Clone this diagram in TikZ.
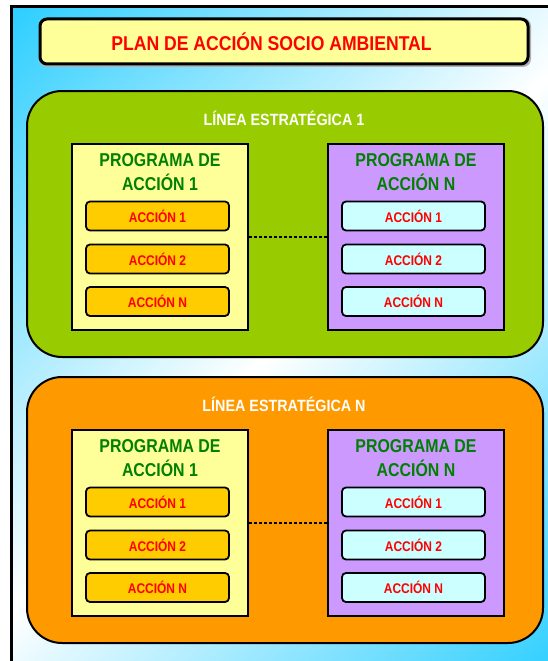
\documentclass[tikz,border=0pt]{standalone}
\usepackage{fontspec}
\setmainfont{Liberation Sans}
\newfontfamily\titlefont[FakeStretch=0.88]{Liberation Sans}
\newfontfamily\labelfont[FakeStretch=0.88]{Liberation Sans}
\newfontfamily\progfont[FakeStretch=0.855]{Liberation Sans}
\newfontfamily\actfont[FakeStretch=0.855]{Liberation Sans}
\definecolor{bgcyan}{HTML}{1ECBFF}
\definecolor{titlefill}{HTML}{FFFF99}
\definecolor{linegreen}{HTML}{99CC00}
\definecolor{lineorange}{HTML}{FF9900}
\definecolor{progyellow}{HTML}{FFFF99}
\definecolor{progviolet}{HTML}{CC99FF}
\definecolor{actyellow}{HTML}{FFCC00}
\definecolor{actcyan}{HTML}{CCFFFF}
\definecolor{txtgreen}{HTML}{008000}
\definecolor{txtred}{HTML}{FF0000}
\pgfdeclarehorizontalshading{bgshade}{100bp}{color(0bp)=(bgcyan); color(12bp)=(bgcyan); color(50bp)=(white); color(88bp)=(bgcyan); color(100bp)=(bgcyan)}
\tikzset{
  titlebox/.style={draw=black, line width=3pt, fill=titlefill, rounded corners=7pt,
    minimum width=488pt, minimum height=45pt, inner sep=0pt},
  titleshadow/.style={fill=black!30, rounded corners=8pt,
    minimum width=492pt, minimum height=49pt, inner sep=0pt},
  titletext/.style={font=\titlefont\bfseries\fontsize{20}{24}\selectfont, text=txtred, inner sep=0pt},
  linebox/.style={draw=black, line width=2pt, rounded corners=35pt,
    minimum width=516pt, minimum height=266pt, inner sep=0pt},
  linelabel/.style={font=\labelfont\bfseries\fontsize{16.3}{18}\selectfont, text=white, inner sep=0pt},
  progbox/.style={draw=black, line width=2.2pt, minimum width=176pt, minimum height=186pt, inner sep=0pt},
  progtitle/.style={font=\progfont\bfseries\fontsize{18.6}{24}\selectfont, text=txtgreen, align=center, inner sep=0pt},
  actbox/.style={draw=black, line width=1.8pt, rounded corners=4pt, minimum width=143pt,
    minimum height=29pt, inner sep=0pt, font=\actfont\bfseries\fontsize{14}{15}\selectfont, text=txtred},
  dotline/.style={line width=2pt, dash pattern=on 2.4pt off 2.6pt}
}
\begin{document}
\begin{tikzpicture}[x=1pt,y=-1pt]
\useasboundingbox (0,0) rectangle (548,661);
\clip (0,0) rectangle (548,661);
\fill[white] (0,0) rectangle (548,661);
\shade[shading=bgshade, shading angle=-45] (11.5pt,-6.5pt) rectangle (560pt,-672pt);
\draw[line width=3pt] (11.5,680) -- (11.5,6.5) -- (560,6.5);
\node[titleshadow] (tshadow) at (285,42.5) {};
\node[titlebox] (title) at (284,41.5) {};
\node[titletext] (titletxt) at (271.5,41.5) {PLAN DE ACCIÓN SOCIO AMBIENTAL};
\foreach \r/\off/\col in {1/0/linegreen, N/286/lineorange}{
  \node[linebox, fill=\col] (L\r) at (285,224+\off) {};
  \node[linelabel] (LL\r) at (284,118+\off) {LÍNEA ESTRATÉGICA \r};
  \node[progbox, fill=progyellow] (Pa\r) at (160,237+\off) {};
  \node[progtitle] (PTa\r) at (160,172.5+\off) {PROGRAMA DE\\ACCIÓN 1};
  \node[actbox, fill=actyellow] (Aa1\r) at (157.5,216+\off) {ACCIÓN 1};
  \node[actbox, fill=actyellow] (Aa2\r) at (157.5,259+\off) {ACCIÓN 2};
  \node[actbox, fill=actyellow] (Aa3\r) at (157.5,301.5+\off) {ACCIÓN N};
  \node[progbox, fill=progviolet] (Pb\r) at (416,237+\off) {};
  \node[progtitle] (PTb\r) at (416,172.5+\off) {PROGRAMA DE\\ACCIÓN N};
  \node[actbox, fill=actcyan] (Ab1\r) at (413.5,216+\off) {ACCIÓN 1};
  \node[actbox, fill=actcyan] (Ab2\r) at (413.5,259+\off) {ACCIÓN 2};
  \node[actbox, fill=actcyan] (Ab3\r) at (413.5,301.5+\off) {ACCIÓN N};
  \draw[dotline] (Pa\r.east) -- (Pb\r.west);
}
\end{tikzpicture}
\end{document}
